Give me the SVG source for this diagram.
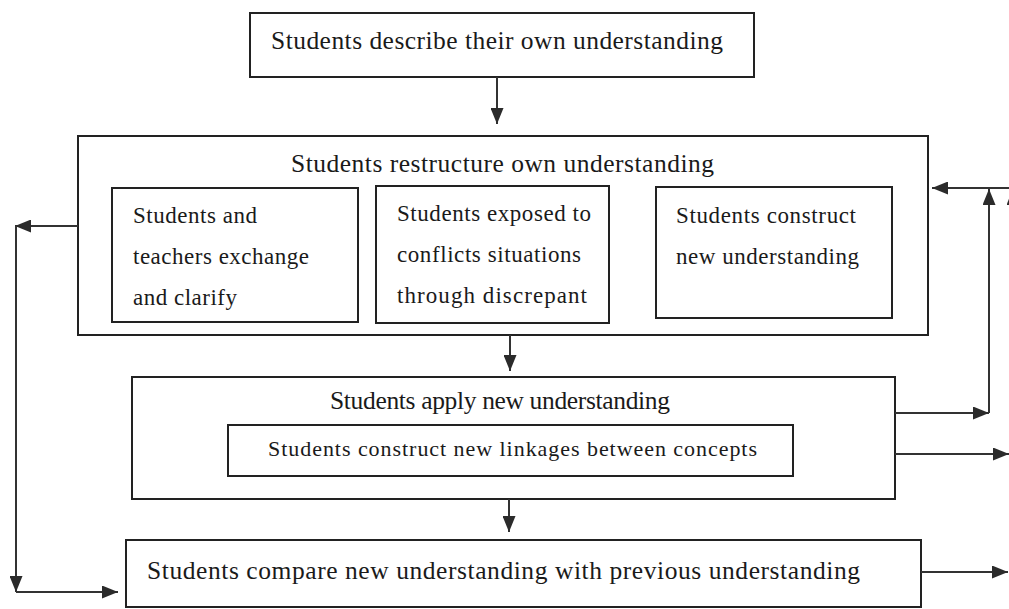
<svg xmlns="http://www.w3.org/2000/svg" width="1009" height="609" viewBox="0 0 1009 609">
  <defs>
    <marker id="arrow" viewBox="0 0 16 13" refX="16" refY="6.5" markerWidth="16" markerHeight="13" markerUnits="userSpaceOnUse" orient="auto">
      <path d="M0,0 L16,6.5 L0,13 z" fill="#2b2b2b"/>
    </marker>
    <style>
      rect { fill: none; stroke: #222; stroke-width: 2; }
      text { font-family: "Liberation Serif", "Times New Roman", serif; fill: #1a1a1a; }
      .title { font-size: 25.5px; }
      .item { font-size: 23px; }
      .small { font-size: 22px; }
      .conn path { fill: none; stroke: #333; stroke-width: 2; marker-end: url(#arrow); }
    </style>
  </defs>
  <rect x="0" y="0" width="1009" height="609" style="fill:#fff;stroke:none"/>

  <!-- top: describe -->
  <g id="describe">
    <rect x="250" y="13" width="504" height="64"/>
    <text class="title" x="271" y="49" textLength="452">Students describe their own understanding</text>
  </g>

  <!-- restructure, with its three sub-steps -->
  <g id="restructure">
    <rect x="78" y="136" width="850" height="199"/>
    <text class="title" x="291" y="172" textLength="423">Students restructure own understanding</text>
  </g>
  <g id="exchange">
    <rect x="112" y="188" width="246" height="134"/>
    <text class="item" x="133" y="223" textLength="124">Students and</text>
    <text class="item" x="133" y="264" textLength="176">teachers exchange</text>
    <text class="item" x="133" y="305" textLength="104">and clarify</text>
  </g>
  <g id="conflicts">
    <rect x="376" y="186" width="233" height="137"/>
    <text class="item" x="397" y="221" textLength="194">Students exposed to</text>
    <text class="item" x="397" y="262" textLength="184">conflicts situations</text>
    <text class="item" x="397" y="303" textLength="190">through discrepant</text>
  </g>
  <g id="construct">
    <rect x="656" y="187" width="236" height="131"/>
    <text class="item" x="676" y="223" textLength="180">Students construct</text>
    <text class="item" x="676" y="264" textLength="183">new understanding</text>
  </g>

  <!-- apply -->
  <g id="apply">
    <rect x="132" y="377" width="763" height="122"/>
    <text class="title" x="330" y="409" textLength="340">Students apply new understanding</text>
  </g>
  <g id="linkages">
    <rect x="228" y="425" width="565" height="51"/>
    <text class="small" x="268" y="456" textLength="489">Students construct new linkages between concepts</text>
  </g>

  <!-- compare -->
  <g id="compare">
    <rect x="126" y="540" width="795" height="67"/>
    <text class="title" x="147" y="579" textLength="713">Students compare new understanding with previous understanding</text>
  </g>

  <!-- connectors -->
  <g id="connectors" class="conn">
    <path d="M497,77 L497,124"/>
    <path d="M510,335 L510,371"/>
    <path d="M509,499 L509,532"/>
    <!-- left loop: restructure back down to compare -->
    <path d="M78,226 L15,226"/>
    <path d="M16,226 L16,592"/>
    <path d="M16,592 L118,592"/>
    <!-- right loop: apply back up to restructure -->
    <path d="M895,413 L989,413"/>
    <path d="M989,413 L989,189"/>
    <path d="M1009,188 L932,188"/>
    <path d="M1013,240 L1013,189"/>
    <path d="M895,454 L1009,454"/>
    <path d="M921,572 L1008,572"/>
  </g>
</svg>
